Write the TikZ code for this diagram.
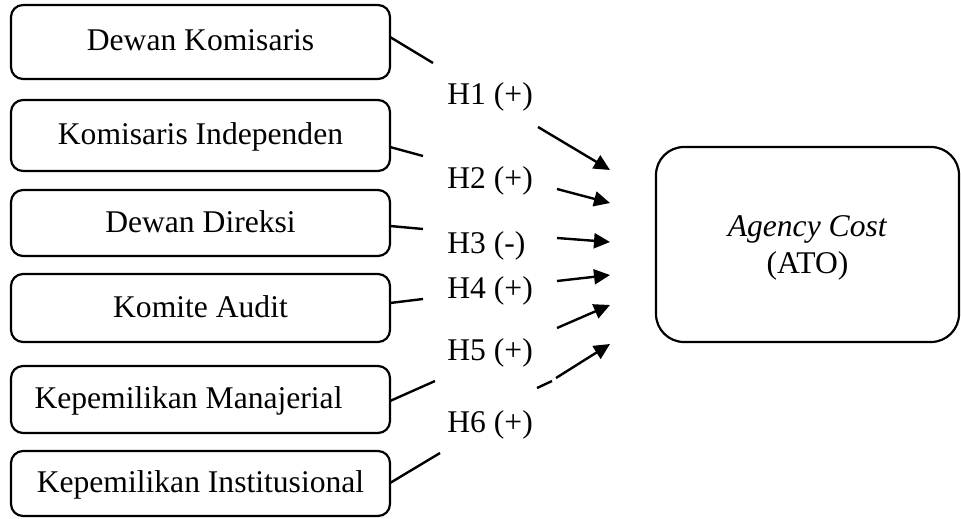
\documentclass[tikz,border=0pt]{standalone}
\usepackage{fontspec}
\setmainfont{Liberation Serif}
\usetikzlibrary{arrows.meta,calc}
\begin{document}
\begin{tikzpicture}[x=0.5pt,y=-0.5pt,
  every node/.style={font=\fontsize{15.8}{18}\selectfont},
  lbox/.style={draw,line width=1.1pt,rounded corners=6pt,minimum width=189.5pt,
    inner sep=0pt,outer sep=0pt,text height=12pt,text depth=3pt},
  rbox/.style={draw,line width=1.1pt,rounded corners=14pt,minimum width=151.5pt,
    minimum height=97.5pt,inner sep=0pt,outer sep=0pt,align=center,
    font=\fontsize{15.8}{18.5}\selectfont},
  hlab/.style={inner sep=0pt,anchor=base west},
  seg/.style={line width=1.2pt},
  arr/.style={line width=1.2pt,-{Triangle[length=8pt,width=7.5pt]}}]
\useasboundingbox (0,0) rectangle (961,518);
% left boxes
\node[lbox,minimum height=37pt]   (b1) at (200.5,42)    {Dewan Komisaris};
\node[lbox,minimum height=35.5pt] (b2) at (200.5,135.5) {Komisaris Independen};
\node[lbox,minimum height=33pt]   (b3) at (200.5,223)   {Dewan Direksi};
\node[lbox,minimum height=34pt]   (b4) at (200.5,308)   {Komite Audit};
\node[lbox,minimum height=33.5pt] (b5) at (200.5,399.5) {Kepemilikan Manajerial\kern12pt};
\node[lbox,minimum height=32.5pt] (b6) at (200.5,483.5) {Kepemilikan Institusional};
% right box
\node[rbox] (ac) at (807.5,244.5) {\rule{0pt}{13.7pt}\textit{Agency Cost}\\(ATO)};
% labels
\node[hlab] (h1) at (447,105) {H1 (+)};
\node[hlab] (h2) at (447,188) {H2 (+)};
\node[hlab] (h3) at (447,253) {H3 (-)};
\node[hlab] (h4) at (447,298) {H4 (+)};
\node[hlab] (h5) at (447,360) {H5 (+)};
\node[hlab] (h6) at (447,432) {H6 (+)};
% connector coordinates
\coordinate (e1) at (433,63);  \coordinate (a1) at (538,127); \coordinate (t1) at (610,170);
\coordinate (e2) at (423,156); \coordinate (a2) at (557,189); \coordinate (t2) at (610,203);
\coordinate (e3) at (423,229); \coordinate (a3) at (557,238); \coordinate (t3) at (610,242);
\coordinate (e4) at (423,299); \coordinate (a4) at (557,281); \coordinate (t4) at (610,275);
\coordinate (e5) at (435,381); \coordinate (a5) at (557,328); \coordinate (t5) at (610,305);
\coordinate (e6) at (440,453); \coordinate (m6) at (537,388); \coordinate (n6) at (552,381);
\coordinate (a6) at (556,378); \coordinate (t6) at (610,344);
% connectors
\draw[seg] ($(b1.east)+(0,-5)$) -- (e1);
\draw[arr] (a1) -- (t1);
\draw[seg] ($(b2.east)+(0,11.5)$) -- (e2);
\draw[arr] (a2) -- (t2);
\draw[seg] ($(b3.east)+(0,3)$) -- (e3);
\draw[arr] (a3) -- (t3);
\draw[seg] ($(b4.east)+(0,-5)$) -- (e4);
\draw[arr] (a4) -- (t4);
\draw[seg] ($(b5.east)+(0,1.5)$) -- (e5);
\draw[arr] (a5) -- (t5);
\draw[seg] ($(b6.east)+(0,-0.5)$) -- (e6);
\draw[seg] (m6) -- (n6);
\draw[arr] (a6) -- (t6);
\end{tikzpicture}
\end{document}
